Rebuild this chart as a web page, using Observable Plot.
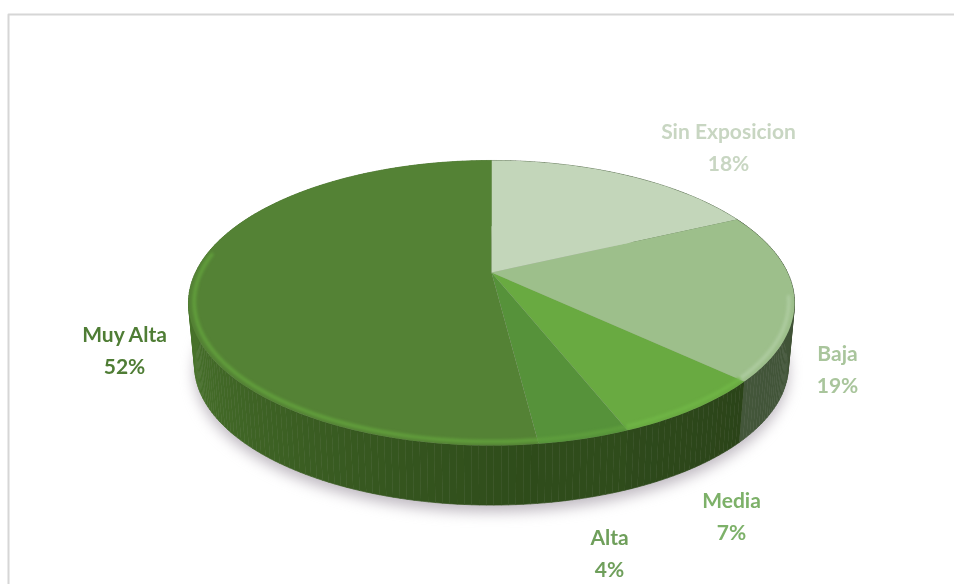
<!DOCTYPE html>
<html>
<head>
<meta charset="utf-8">
<script src="https://cdn.jsdelivr.net/npm/d3@7"></script>
<script src="https://cdn.jsdelivr.net/npm/@observablehq/plot@0.6"></script>
<style>
  html, body { margin: 0; padding: 0; background: #fff; }
  svg { display: block; filter: blur(0.55px); }
</style>
</head>
<body>
<div id="chart"></div>
<script>
const categories = ["Sin Exposicion", "Baja", "Media", "Alta", "Muy Alta"];
const shares = [18, 19, 7, 4, 52];

// styling, keyed by category
const topColors = {"Sin Exposicion": "#c3d6ba", "Baja": "#9dbf8b", "Media": "#69aa41", "Alta": "#56923a", "Muy Alta": "#548235"};
const rimColors = {"Baja": "#aecca0", "Media": "#70b646", "Alta": "#5f9f3d", "Muy Alta": "#62a03c"};
const wallColors = {
  "Sin Exposicion": ["#566b4c", "#566b4c"],
  "Baja": ["#3c4f33", "#43563a"],
  "Media": ["#2b4419", "#2e4a1b"],
  "Alta": ["#2f4c1b", "#2f4c1b"],
  "Muy Alta": ["#2e4b1a", "#48722b"]
};
const labelColors = {"Sin Exposicion": "#c8d6c2", "Baja": "#a9c59c", "Media": "#7db169", "Alta": "#6f9f5b", "Muy Alta": "#4f7d35"};

// layout, in page pixels
const layout = {
  cx: 491, cy: 272, R: 296, S: 136, k: 0.214, depth: 63, shrink: 0.98,
  label: {
    "Sin Exposicion": [728, 144],
    "Baja": [837, 366],
    "Media": [731, 513],
    "Alta": [609, 550],
    "Muy Alta": [124, 347]
  }
};

const rad = d => d * Math.PI / 180;
function project(a, r = 1, lower = false) {
  const u = r * Math.sin(a), v = -r * Math.cos(a), w = 1 - layout.k * v;
  const dx = layout.R * u / w, dy = layout.S * v / w;
  if (!lower) return [layout.cx + dx, layout.cy + dy];
  return [layout.cx + dx * layout.shrink, layout.cy + dy * layout.shrink + layout.depth];
}

const total = d3.sum(shares);
const slices = [];
{
  let acc = 0;
  categories.forEach((name, i) => {
    const a0 = acc / total * 2 * Math.PI;
    acc += shares[i];
    slices.push({name, a0, a1: acc / total * 2 * Math.PI});
  });
}
const steps = (a0, a1, n) => d3.range(n + 1).map(i => a0 + (a1 - a0) * i / n);

// top surface polygons
const topPts = [];
slices.forEach(s => {
  topPts.push({id: s.name, c: topColors[s.name], p: [layout.cx, layout.cy]});
  steps(s.a0, s.a1, Math.ceil((s.a1 - s.a0) * 60)).forEach(a =>
    topPts.push({id: s.name, c: topColors[s.name], p: project(a)}));
});

// side wall: narrow quads tinted along the rim
const wallPts = [];
slices.forEach(s => {
  const as = steps(s.a0, s.a1, Math.ceil((s.a1 - s.a0) * 50));
  const interp = d3.interpolateRgb(...wallColors[s.name]);
  for (let i = 0; i < as.length - 1; ++i) {
    const id = s.name + i;
    const t = s.name === "Muy Alta"
      ? Math.min(1, Math.max(0, (as[i] - rad(172.8)) / rad(80)))
      : i / (as.length - 1);
    const c = interp(t);
    [project(as[i]), project(as[i + 1]), project(as[i + 1], 1, true), project(as[i], 1, true)]
      .forEach(p => wallPts.push({id, c, p}));
  }
});

// soft shadow under the pie
const shadowPts = steps(0, 2 * Math.PI, 120).map(a => {
  const p = project(a, 1, true);
  return {p: [p[0], p[1] + 7]};
});

// bevel highlight just inside the front rim
const rimPts = [];
slices.filter(s => rimColors[s.name]).forEach(s => {
  const lo = s.name === "Baja" ? rad(100) : s.a0;
  const hi = s.name === "Muy Alta" ? rad(278) : s.a1;
  steps(lo, hi, 60).forEach(a =>
    rimPts.push({id: s.name, c: rimColors[s.name], p: project(a, 0.982)}));
});

// dividers between wall panels
const labels = slices.map((s, i) => ({
  name: s.name,
  pct: shares[i] + "%",
  x: layout.label[s.name][0],
  y: layout.label[s.name][1],
  c: labelColors[s.name]
}));

const frame = [[8, 584], [8, 14], [954, 14]];

const px = d => d.p[0], py = d => d.p[1];
const chart = Plot.plot({
  width: 954,
  height: 584,
  margin: 0,
  style: {background: "#fff", fontFamily: "Lato, sans-serif"},
  x: {domain: [0, 954], range: [0, 954], axis: null},
  y: {domain: [0, 584], range: [0, 584], axis: null},
  color: {type: "identity"},
  marks: [
    Plot.line(frame, {x: d => d[0], y: d => d[1], stroke: "#d6d6d6", strokeWidth: 2}),
    Plot.line(shadowPts, {x: px, y: py, fill: "#a9a2ac", stroke: null, fillOpacity: 0.75, imageFilter: "blur(7px)"}),
    Plot.line(wallPts, {x: px, y: py, z: "id", fill: "c", stroke: "c", strokeWidth: 0.7}),
    Plot.line(topPts, {x: px, y: py, z: "id", fill: "c", stroke: null}),
    Plot.line(rimPts, {x: px, y: py, z: "id", stroke: "c", strokeWidth: 3.5, imageFilter: "blur(1.6px)"}),
    Plot.text(labels, {x: "x", y: "y", text: d => d.name + "\n" + d.pct, fill: "c", fontSize: 21, fontWeight: 700, lineHeight: 1.52, textAnchor: "middle"})
  ]
});
document.getElementById("chart").appendChild(chart);
</script>
</body>
</html>
